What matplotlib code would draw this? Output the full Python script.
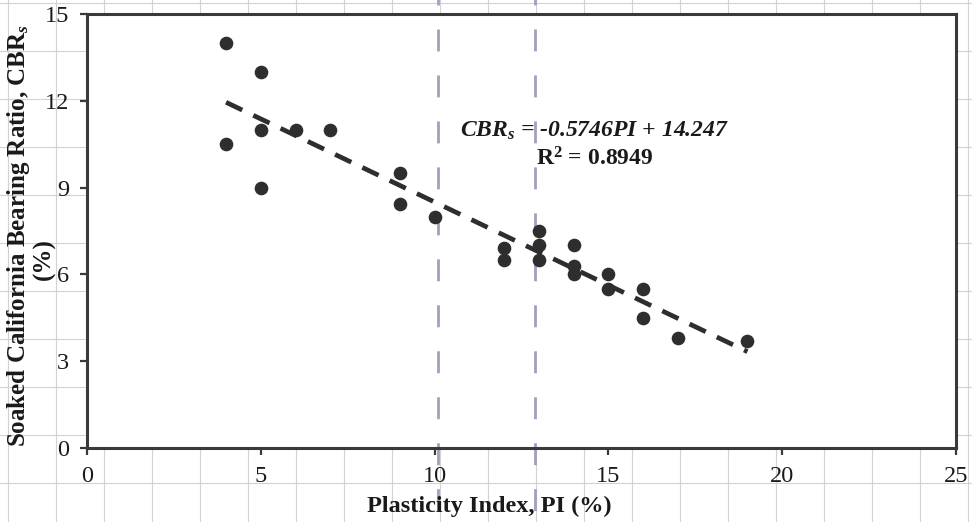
import numpy as np
import matplotlib
matplotlib.use("Agg")
import matplotlib.pyplot as plt
from matplotlib.patches import Rectangle

plt.rcParams['font.family'] = 'Liberation Serif'
plt.rcParams['mathtext.fontset'] = 'custom'
plt.rcParams['mathtext.rm'] = 'Liberation Serif:bold'
plt.rcParams['mathtext.it'] = 'Liberation Serif:italic:bold'
plt.rcParams['mathtext.bf'] = 'Liberation Serif:bold'

# data
pi = [4, 4, 5, 5, 5, 6, 7, 9, 9, 10, 12, 12, 13, 13, 13, 14, 14, 14, 15, 15, 16, 16, 17, 19]
cbr = [14.0, 10.5, 13.0, 11.0, 9.0, 11.0, 11.0, 9.5, 8.45, 8.0, 6.9, 6.5, 7.5, 7.0, 6.5,
       7.0, 6.3, 6.0, 6.0, 5.5, 5.5, 4.5, 3.8, 3.7]
slope = -0.5746
intercept = 14.247
r2 = 0.8949
limits_pi = [10.1, 12.9]

W, H = 972, 522
fig = plt.figure(figsize=(W / 100, H / 100), dpi=100)

# spreadsheet cells behind the chart
bg = fig.add_axes([0, 0, 1, 1], zorder=-10)
bg.set_xlim(0, W)
bg.set_ylim(H, 0)
bg.axis('off')
for gx in range(8, W, 48):
    bg.axvline(gx, color='#d2d2d2', lw=0.8)
for gy in range(3, H, 48):
    bg.axhline(gy, color='#d2d2d2', lw=0.8)
bg.add_patch(Rectangle((77, 6), 889, 451, fc='white', ec='none'))

ax = fig.add_axes([87 / W, 1 - 448 / H, (956 - 87) / W, (448 - 14) / H])
ax.set_facecolor('white')

dark = '#2e2e2e'
ax.plot(pi, cbr, 'o', color=dark, ms=8.8, zorder=4)

xt = np.array([min(pi), max(pi)])
ax.plot(xt, slope * xt + intercept, color=dark, lw=3.4, dashes=(3.8, 2.6), zorder=3)

# dashed guide lines run over the whole sheet, drawn from the top down
for xv in limits_pi:
    ax.axvline(xv, ymin=1.0714, ymax=-0.189, color='#a0a0bf', lw=2.0,
               ls=(5.76, (7.9, 8.65)), clip_on=False, zorder=1.5)

ax.set_xlim(0, 25)
ax.set_ylim(0, 15)
ax.set_xticks(np.arange(0, 26, 5))
ax.set_yticks(np.arange(0, 16, 3))
for s in ax.spines.values():
    s.set_color('#3a3a3a')
    s.set_linewidth(2.2)
ax.tick_params(direction='out', length=5, width=1.6, color='#3a3a3a',
               labelsize=17.5, labelcolor='#1a1a1a', pad=8)

ax.text(14.61, 10.75, r"$CBR_s$ = -0.5746PI + 14.247", ha='center', va='baseline',
        fontsize=17, fontweight='bold', fontstyle='italic', color='#1a1a1a', zorder=5)
ax.text(14.61, 9.78, "R$^2$ = %.4f" % r2, ha='center', va='baseline',
        fontsize=17, fontweight='bold', color='#1a1a1a', zorder=5)

fig.text(489 / W, 1 - 512 / H, "Plasticity Index, PI (%)", ha='center', va='baseline',
         fontsize=17.5, fontweight='bold', color='#1a1a1a')
fig.text(19 / W, 1 - 235 / H, "Soaked California Bearing Ratio, CBR$_s$",
         rotation=90, ha='center', va='center', fontsize=18, fontweight='bold', color='#1a1a1a')
fig.text(44 / W, 1 - 259 / H, "(%)",
         rotation=90, ha='center', va='center', fontsize=18, fontweight='bold', color='#1a1a1a')

fig.savefig("out.png", dpi=100, facecolor='white')
